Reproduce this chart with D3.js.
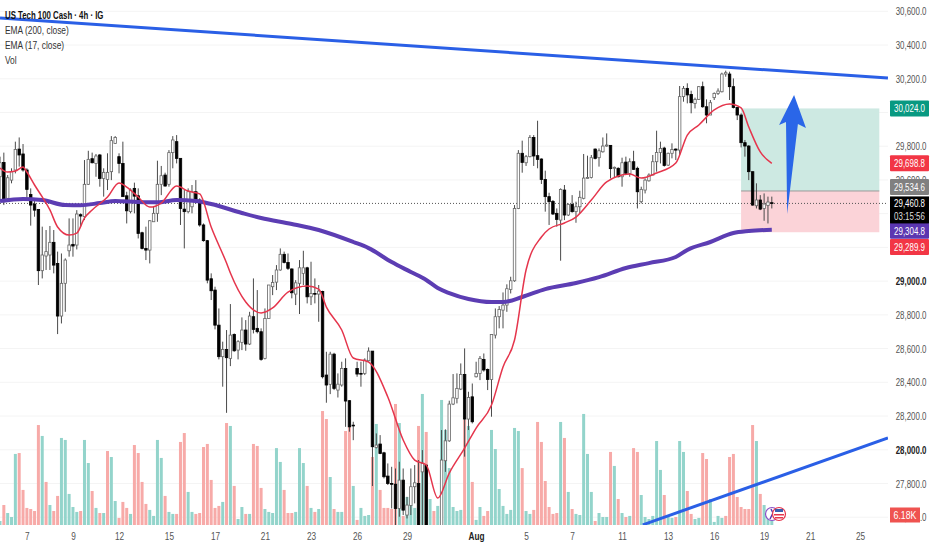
<!DOCTYPE html>
<html>
<head>
<meta charset="utf-8">
<script src="https://cdnjs.cloudflare.com/ajax/libs/d3/7.8.5/d3.min.js"></script>
<style>
	html, body { margin: 0; padding: 0; background: #fff; }
	svg { display: block; }
	text { font-family: "Liberation Sans", sans-serif; }
</style>
</head>
<body>
<div id="chart"></div>
<script>
// candles (x is the candle number, 4h bars)
var opens = [
	29619,29704,29491,29599,29659,29783,29754,29659,29514,29457,
	29425,29062,29149,29155,29230,29105,28793,28987,29180,29218,
	29214,29394,29382,29574,29726,29698,29748,29609,29603,29649,
	29817,29738,29698,29506,29412,29550,29506,29287,29194,29184,
	29352,29402,29574,29629,29574,29762,29827,29728,29427,29412,
	29441,29530,29481,29333,29240,29014,28947,28739,28552,28595,
	28542,28684,28591,28637,28710,28627,28789,28720,28700,28542,
	28779,28967,28994,29066,29159,29111,29072,28923,28987,29046,
	29079,28907,28927,28923,28939,28443,28388,28567,28354,28384,
	28482,28291,28146,28482,28453,28453,28528,28585,28014,28034,
	27982,27844,27800,27796,27652,27820,27613,27670,27781,27800,
	27869,27909,27480,27410,27350,27524,27935,28053,28271,28305,
	28360,28447,28182,28314,28433,28453,28536,28476,28417,28680,
	28789,28828,28858,28951,29002,29431,29758,29702,29738,29852,
	29744,29724,29603,29501,29473,29402,29362,29540,29392,29455,
	29412,29441,29491,29609,29615,29783,29732,29767,29801,29805,
	29669,29669,29619,29706,29639,29708,29669,29471,29540,29595,
	29629,29708,29763,29789,29688,29758,29783,29777,30094,30143,
	30107,30054,30078,30153,30034,29985,30088,30113,30123,30228,
	30228,30153,30030,29985,29821,29801,29649,29447,29481,29431,
	29449,29465
];
var highs = [
	29738,29762,29629,29669,29827,29852,29813,29669,29550,29481,
	29425,29323,29303,29327,29303,29175,29164,29135,29372,29372,
	29421,29402,29718,29773,29762,29754,29754,29669,29758,29860,
	29860,29758,29827,29530,29550,29584,29550,29293,29323,29362,
	29441,29714,29683,29643,29777,29860,29866,29728,29540,29550,
	29570,29599,29491,29342,29244,29046,28967,28838,28641,28710,
	28864,28690,28650,28785,28769,28818,29016,28947,28720,28838,
	28977,29036,29095,29194,29175,29164,29076,29006,29125,29180,
	29085,29115,29016,28977,28943,28581,28581,28575,28453,28522,
	28542,28295,28166,28522,28522,28542,28607,28585,28097,28087,
	27988,27919,27899,27889,27929,27889,27721,27889,27909,27939,
	27998,27909,27510,27450,27520,28117,28121,28291,28449,28453,
	28512,28601,28344,28393,28522,28556,28571,28482,28684,28838,
	28852,28933,28981,29026,29451,29777,29833,29748,29866,29866,
	29951,29728,29655,29524,29481,29431,29550,29570,29461,29510,
	29471,29536,29754,29744,29748,29787,29787,29852,29876,29807,
	29679,29675,29732,29738,29728,29773,29679,29560,29609,29639,
	29748,29892,29827,29797,29762,29817,29787,30157,30157,30173,
	30129,30088,30157,30183,30078,30074,30119,30143,30236,30248,
	30242,30202,30034,29995,29837,29807,29649,29580,29510,29520,
	29501,29501
];
var lows = [
	29481,29451,29481,29580,29639,29679,29649,29481,29329,29382,
	28977,29016,29066,29066,29046,28686,28749,28818,29145,29145,
	29188,29323,29362,29570,29698,29619,29560,29501,29540,29599,
	29813,29639,29501,29342,29402,29402,29253,29188,29125,29105,
	29352,29352,29510,29560,29560,29669,29698,29333,29194,29402,
	29402,29461,29323,29234,28987,28888,28714,28536,28374,28219,
	28496,28581,28536,28591,28587,28621,28690,28690,28528,28536,
	28779,28917,28947,29062,29105,29066,28898,28858,28805,28977,
	28868,28858,28868,28759,28423,28279,28330,28354,28310,28374,
	28136,28107,28057,28433,28374,28443,28522,27785,28008,27974,
	27830,27791,27652,27553,27603,27613,27593,27613,27682,27470,
	27450,27450,27390,27320,27330,27504,27869,28047,28265,28275,
	28354,27959,28117,28156,28429,28413,28463,28354,28196,28660,
	28720,28720,28818,28927,28996,29427,29643,29683,29734,29683,
	29669,29576,29412,29333,29392,29323,29121,29362,29386,29406,
	29346,29402,29485,29609,29609,29722,29679,29762,29797,29609,
	29615,29615,29560,29629,29619,29659,29431,29461,29520,29590,
	29629,29649,29698,29679,29683,29728,29718,29748,30064,30054,
	29995,30024,30074,30028,29936,29985,30074,30104,30119,30212,
	30074,30024,29955,29793,29738,29599,29447,29431,29421,29358,
	29342,29431
];
var closes = [
	29702,29471,29613,29649,29781,29748,29659,29544,29451,29421,
	29062,29155,29175,29230,29095,28793,28987,29125,29214,29208,
	29398,29386,29574,29722,29702,29742,29609,29645,29645,29833,
	29852,29698,29501,29417,29540,29504,29283,29194,29184,29358,
	29402,29574,29625,29564,29762,29837,29728,29431,29412,29530,
	29530,29481,29333,29240,29006,28943,28739,28552,28595,28546,
	28680,28587,28641,28710,28627,28793,28714,28700,28536,28779,
	28977,28992,29066,29159,29111,29076,28931,28990,29079,29079,
	28907,28927,28923,28941,28433,28384,28567,28364,28389,28482,
	28289,28136,28142,28449,28449,28532,28585,28018,28028,27978,
	27840,27800,27796,27652,27820,27642,27672,27781,27804,27504,
	27919,27480,27410,27350,27480,27939,28053,28271,28308,28364,
	28447,28182,28310,28166,28453,28542,28473,28417,28684,28789,
	28832,28858,28955,29002,29431,29758,29704,29738,29852,29742,
	29722,29603,29501,29471,29398,29366,29544,29392,29455,29412,
	29441,29497,29611,29615,29732,29728,29773,29801,29807,29667,
	29675,29619,29702,29639,29708,29663,29530,29544,29599,29629,
	29708,29763,29787,29686,29758,29781,29777,30094,30143,30104,
	30058,30078,30153,30034,29985,30058,30113,30127,30228,30236,
	30153,30030,29985,29821,29801,29649,29451,29481,29427,29457,
	29469,29460.8
];

// volume in K, same candle numbers. t = teal bar, p = pink bar
var volumes = [
	2.6,13,7.8,5.2,46.2,46.8,22.8,11.1,10.4,9.1,
	65,57.9,28,13,9.1,18.9,56.6,55.3,20.2,11.7,
	8.5,9.1,55.3,40.3,22.1,11.1,7.8,7.8,48.1,44.2,
	15.6,4.6,15,11.1,7.2,52,46.8,28,13.7,9.8,
	5.9,55.3,43.6,18.9,8.5,7.2,7.2,54,59.8,21.5,
	8.5,7.2,7.8,50.7,52.7,29.3,11.1,12.4,15,66.3,
	64.4,25.4,3.9,11.7,7.2,7.2,52.7,51.4,24.1,10.4,
	8.5,7.8,50,41,22.8,7.8,7.8,8.5,50,40.3,
	25.4,11.1,8.5,10.4,74.1,68.9,31.2,10.4,8.5,8.5,
	61.1,63.7,25.4,3.3,11.1,5.9,6.5,44.2,65.7,22.8,
	11.1,11.1,10.4,78.7,66.3,5.9,18.2,13,11.1,64.4,
	85.2,60.5,16.9,9.1,12.4,81.3,61.8,37,11.7,9.1,
	9.8,68.3,64.4,28,3.3,11.7,5.9,9.1,61.8,49.4,
	23.4,12.4,7.2,9.8,63.1,61.1,37,9.1,7.2,9.8,
	67,54,28.6,11.7,7.2,7.8,67,56.6,21.5,10.4,
	7.2,6.5,72.2,46.2,21.5,2.6,7.8,5.2,5.2,47.5,
	38.4,16.9,7.8,5.2,5.9,50,47.5,19.5,5.2,3.9,
	5.9,54.6,35.8,19.5,5.2,4.6,5.2,54.6,47.5,22.1,
	7.2,3.9,4.6,46.8,42.9,16.9,2,5.9,4.6,5.9,
	44.2,46.2,18.2,11.7,10.4,10.4,65,54.6,20.2,13,
	6.2,6.18
];
var volumeSides = (
	"tptttppppp" + "ptptpptttt" + "tpttptptpt" + "tppptppppt" +
	"tttpttpppt" + "tppppppptp" + "tpttptpppt" + "ttttpppttt" +
	"ptptpptptt" + "pptptttptp" + "pppptptttp" + "tptptttttt" +
	"tptpttpptt" + "ttttttpttp" + "pppppptptp" + "tttttptttp" +
	"tptptppttt" + "tttpttpttp" + "pttppttttp" + "ppppppptpt" + "tt"
).split("");

// EMA lines, sampled along the drawn curves
var ema200Index = [0,6,11,17,21,26,30,36,41,46,51,55,63,68,76,83,92,96,102,107,111,114,117,122,128,131,136,142,150,156,163,169,176,179,185,191,195,201];
var ema200Price = [29475,29487,29481,29451,29450,29463,29475,29469,29467,29481,29475,29457,29404,29374,29339,29303,29232,29196,29113,29054,29007,28959,28929,28894,28876,28876,28906,28953,28989,29024,29078,29107,29143,29185,29232,29285,29297,29304.8];
var ema17Index = [0,2,4,6,7,9,11,13,15,18,20,22,24,28,31,33,36,39,42,46,49,52,55,59,60,64,68,71,75,80,83,85,89,92,96,101,105,108,111,114,117,121,124,128,131,134,137,141,143,147,150,154,158,164,167,171,176,179,182,186,190,193,195,198,201];
var ema17Price = [29671,29647,29653,29677,29647,29570,29499,29422,29321,29273,29285,29374,29422,29499,29582,29558,29499,29439,29463,29564,29534,29517,29321,29107,29048,28876,28811,28841,28935,28971,28953,28846,28710,28544,28520,28313,28058,27939,27910,27714,27862,28010,28129,28265,28491,28651,29066,29262,29309,29345,29380,29481,29588,29635,29611,29641,29700,29866,29926,30015,30050,30027,29914,29766,29698.8];

// trend lines, the position box and the big arrow
var upperTrendIndex = [0, 231.25], upperTrendPrice = [30560, 30204];
var lowerTrendIndex = [167.4, 231.25], lowerTrendPrice = [27555, 28070];
var boxIndex = [193, 229];
var targetPrice = 30024, entryPrice = 29534.6, stopPrice = 29289.9, lastPrice = 29460.8;
var arrowIndex = [206.8, 209.9, 207.8, 205, 204.7, 202.9];
var arrowPrice = [30104, 29908, 29932, 29398, 29944, 29926];

// axes. 30,000 29,400 and 29,200 sit fully under the tags so they get a grid line only
var gridPrices = [30600,30400,30200,30000,29800,29600,29400,29200,29000,28800,28600,28400,28200,28000,27800,27600];
var priceTicks = [30600,30400,30200,29800,29600,29000,28800,28600,28400,28200,28000,27800,27600];
var boldPriceTicks = [29000, 28000];
var dateTickIndex = [7,19,31,44,56,69,81,93,106,124,137,149,162,174,186,199,211,224];
var dateTickLabels = ["7","9","12","15","17","21","23","26","29","Aug","5","7","11","13","16","19","21","25"];

// tags on the price axis
var tagPrices = [30024, 29698.8, 29534.6, 29304.8, 29289.9];
var tagColors = ["#089981", "#f23645", "#808080", "#5b36b0", "#f23645"];
var legendLines = ["US Tech 100 Cash \u00b7 4h \u00b7 IG", "EMA (200, close)", "EMA (17, close)", "Vol"];

var width = 932, height = 550;
var plotRight = 888, plotBottom = 525;

var svg = d3.select("#chart").append("svg")
	.attr("width", width)
	.attr("height", height);

var xScale = d3.scaleLinear().domain([0, 201]).range([0, 771.8]);
var yScale = d3.scaleLinear().domain([27800, 30600]).range([483.5, 11.3]);
var volScale = d3.scaleLinear().domain([0, 100]).range([plotBottom, plotBottom - 153.8]);

svg.append("clipPath").attr("id", "plotClip")
	.append("rect")
	.attr("x", 0).attr("y", 0)
	.attr("width", plotRight).attr("height", plotBottom);

// squeeze text sideways around its x, the reference picture is stretched like that
function squeeze(sel, factor) {
	sel.each(function() {
		var x = +d3.select(this).attr("x") || 0;
		d3.select(this).attr("transform", "translate(" + (x * (1 - factor)) + ",0) scale(" + factor + ",1)");
	});
}

var plot = svg.append("g").attr("clip-path", "url(#plotClip)");

// horizontal grid
plot.selectAll(".grid")
	.data(gridPrices)
	.enter()
	.append("line")
	.attr("x1", 0)
	.attr("x2", plotRight)
	.attr("y1", function(d) { return yScale(d); })
	.attr("y2", function(d) { return yScale(d); })
	.attr("stroke", "#f4f4f4");

// volume bars
plot.selectAll(".vol")
	.data(volumes)
	.enter()
	.append("rect")
	.attr("x", function(d, i) { return xScale(i) - 1.5; })
	.attr("y", function(d) { return volScale(d); })
	.attr("width", 3)
	.attr("height", function(d) { return plotBottom - volScale(d); })
	.attr("fill", function(d, i) { return volumeSides[i] === "t" ? "#93d4cb" : "#f7aaa8"; });

// position box
plot.append("rect")
	.attr("x", xScale(boxIndex[0]))
	.attr("width", xScale(boxIndex[1]) - xScale(boxIndex[0]))
	.attr("y", yScale(targetPrice))
	.attr("height", yScale(entryPrice) - yScale(targetPrice))
	.attr("fill", "#cde9e2");
plot.append("rect")
	.attr("x", xScale(boxIndex[0]))
	.attr("width", xScale(boxIndex[1]) - xScale(boxIndex[0]))
	.attr("y", yScale(entryPrice))
	.attr("height", yScale(stopPrice) - yScale(entryPrice))
	.attr("fill", "#fbd3d8");
plot.append("line")
	.attr("x1", xScale(boxIndex[0]))
	.attr("x2", xScale(boxIndex[1]))
	.attr("y1", yScale(entryPrice))
	.attr("y2", yScale(entryPrice))
	.attr("stroke", "#9a9a9a");

// last price dotted line
plot.append("line")
	.attr("x1", 0)
	.attr("x2", plotRight)
	.attr("y1", yScale(lastPrice))
	.attr("y2", yScale(lastPrice))
	.attr("stroke", "#555")
	.attr("stroke-dasharray", "1 2");

// candles
var candles = plot.selectAll(".candle")
	.data(opens)
	.enter()
	.append("g");

candles.append("line")
	.attr("x1", function(d, i) { return xScale(i); })
	.attr("x2", function(d, i) { return xScale(i); })
	.attr("y1", function(d, i) { return yScale(highs[i]); })
	.attr("y2", function(d, i) { return yScale(lows[i]); })
	.attr("stroke", "#4a4a4a")
	.attr("stroke-width", 1);

candles.append("rect")
	.attr("x", function(d, i) { return xScale(i) - 1.25; })
	.attr("width", 2.5)
	.attr("y", function(d, i) { return yScale(Math.max(d, closes[i])); })
	.attr("height", function(d, i) { return Math.max(0.8, Math.abs(yScale(d) - yScale(closes[i]))); })
	.attr("fill", function(d, i) { return closes[i] >= d ? "#fff" : "#000"; })
	.attr("stroke", function(d, i) { return closes[i] >= d ? "#666" : "#000"; })
	.attr("stroke-width", 0.8);

// EMA lines
var emaLine = d3.line()
	.x(function(d) { return xScale(d[0]); })
	.y(function(d) { return yScale(d[1]); })
	.curve(d3.curveMonotoneX);

plot.append("path")
	.attr("d", emaLine(d3.zip(ema200Index, ema200Price)))
	.attr("fill", "none")
	.attr("stroke", "#5c3db3")
	.attr("stroke-width", 4);

plot.append("path")
	.attr("d", emaLine(d3.zip(ema17Index, ema17Price)))
	.attr("fill", "none")
	.attr("stroke", "#e5354c")
	.attr("stroke-width", 1.5);

// trend lines
var straight = d3.line()
	.x(function(d) { return xScale(d[0]); })
	.y(function(d) { return yScale(d[1]); });

[[upperTrendIndex, upperTrendPrice], [lowerTrendIndex, lowerTrendPrice]].forEach(function(t) {
	plot.append("path")
		.attr("d", straight(d3.zip(t[0], t[1])))
		.attr("fill", "none")
		.attr("stroke", "#2a5fe6")
		.attr("stroke-width", 3);
});

// big arrow
plot.append("path")
	.attr("d", straight(d3.zip(arrowIndex, arrowPrice)) + "Z")
	.attr("fill", "#2a66e8");

// event icons by the last bars
var icons = svg.append("g");
icons.append("circle").attr("cx", 772).attr("cy", 514).attr("r", 6.5)
	.attr("fill", "#fff").attr("stroke", "#8a4fc7").attr("stroke-width", 1.2);
icons.append("path").attr("d", "M771 509 L773 513 L770 519").attr("fill", "none").attr("stroke", "#5b36b0").attr("stroke-width", 1.5);
icons.append("circle").attr("cx", 779).attr("cy", 514).attr("r", 6.5)
	.attr("fill", "#fff").attr("stroke", "#e5354c").attr("stroke-width", 1.2);
icons.append("rect").attr("x", 775).attr("y", 509).attr("width", 8).attr("height", 3).attr("fill", "#3a5fb0");
icons.append("rect").attr("x", 774).attr("y", 514).attr("width", 10).attr("height", 1.5).attr("fill", "#e5354c");
icons.append("rect").attr("x", 775).attr("y", 517).attr("width", 8).attr("height", 1.5).attr("fill", "#e5354c");

// price axis
var priceAxis = svg.append("g")
	.attr("transform", "translate(892,0)")
	.call(d3.axisRight(yScale).tickValues(priceTicks).tickSize(0).tickFormat(d3.format(",.1f")));
priceAxis.select(".domain").remove();
priceAxis.selectAll("text")
	.attr("x", 34.5)
	.attr("text-anchor", "end")
	.attr("font-size", 11)
	.attr("font-family", "Liberation Sans")
	.attr("fill", function(d) { return boldPriceTicks.indexOf(d) > -1 ? "#222" : "#555"; })
	.attr("font-weight", function(d) { return boldPriceTicks.indexOf(d) > -1 ? "bold" : "normal"; })
	.call(squeeze, 0.72);

// date axis
var dateAxis = svg.append("g")
	.attr("transform", "translate(0,530)")
	.call(d3.axisBottom(xScale).tickValues(dateTickIndex).tickSize(0).tickPadding(2)
		.tickFormat(function(d, i) { return dateTickLabels[i]; }));
dateAxis.select(".domain").remove();
dateAxis.selectAll("text")
	.attr("font-size", 11)
	.attr("font-family", "Liberation Sans")
	.attr("fill", function(d, i) { return dateTickLabels[i] === "Aug" ? "#222" : "#555"; })
	.attr("font-weight", function(d, i) { return dateTickLabels[i] === "Aug" ? "bold" : "normal"; })
	.call(squeeze, 0.75);

// tags, the last two get pushed apart like on the real chart
var tagNudge = [0, 0, -4, 1, 14.7];
var tags = svg.selectAll(".tag")
	.data(tagPrices)
	.enter()
	.append("g")
	.attr("transform", function(d, i) { return "translate(890," + (yScale(d) + tagNudge[i]) + ")"; });
tags.append("rect")
	.attr("x", 0).attr("y", -8)
	.attr("width", 39).attr("height", 16)
	.attr("rx", 1)
	.attr("fill", function(d, i) { return tagColors[i]; });
tags.append("text")
	.attr("x", 19.5).attr("y", 4)
	.attr("text-anchor", "middle")
	.attr("font-size", 11)
	.attr("fill", "#fff")
	.text(function(d) { return d3.format(",.1f")(d); })
	.call(squeeze, 0.72);

var lastTag = svg.append("g").attr("transform", "translate(890," + yScale(lastPrice) + ")");
lastTag.append("rect")
	.attr("x", 0).attr("y", -7)
	.attr("width", 39).attr("height", 27)
	.attr("fill", "#000");
lastTag.append("text")
	.attr("x", 19.5).attr("y", 4)
	.attr("text-anchor", "middle").attr("font-size", 11).attr("fill", "#fff")
	.text(d3.format(",.1f")(lastPrice))
	.call(squeeze, 0.72);
lastTag.append("text")
	.attr("x", 19.5).attr("y", 17)
	.attr("text-anchor", "middle").attr("font-size", 11).attr("fill", "#ddd")
	.text("03:15:56")
	.call(squeeze, 0.72);

var volTag = svg.append("g").attr("transform", "translate(890," + volScale(6.18) + ")");
volTag.append("rect")
	.attr("x", 0).attr("y", -8)
	.attr("width", 30).attr("height", 15)
	.attr("fill", "#ef5350");
volTag.append("text")
	.attr("x", 15).attr("y", 3.5)
	.attr("text-anchor", "middle").attr("font-size", 11).attr("fill", "#fff")
	.text("6.18K")
	.call(squeeze, 0.8);

// legend top left
svg.selectAll(".legend")
	.data(legendLines)
	.enter()
	.append("text")
	.attr("x", 5)
	.attr("y", function(d, i) { return 19 + i * 15; })
	.attr("font-size", 11.5)
	.attr("fill", function(d, i) { return i === 0 ? "#111" : "#333"; })
	.attr("font-weight", function(d, i) { return i === 0 ? "bold" : "normal"; })
	.text(function(d) { return d; })
	.each(function(d, i) { d3.select(this).call(squeeze, i === 0 ? 0.68 : 0.73); });
</script>
</body>
</html>
